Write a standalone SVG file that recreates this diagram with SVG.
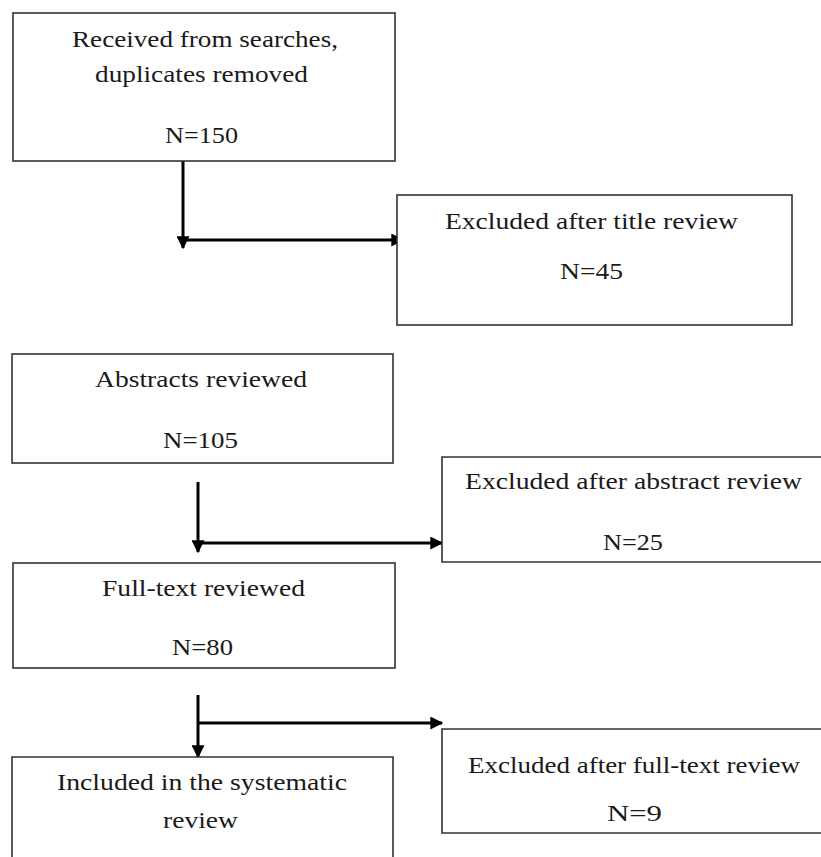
<svg xmlns="http://www.w3.org/2000/svg" width="821" height="857" viewBox="0 0 821 857">
<defs>
<style>
.box{fill:#fff;stroke:#333;stroke-width:1.6}
.t{font-family:"Liberation Serif","Times New Roman",serif;font-size:23px;fill:#1a1a1a}
.c{fill:none;stroke:#000;stroke-width:3}
</style>
<marker id="ah" viewBox="0 0 10 10" refX="9" refY="5" markerWidth="14" markerHeight="13" markerUnits="userSpaceOnUse" orient="auto">
<path d="M0,0 L10,5 L0,10 Z" fill="#000"/>
</marker>
</defs>
<rect width="821" height="857" fill="#fff"/>
<g id="connectors">
<path class="c" d="M183,161 V248" marker-end="url(#ah)"/>
<path class="c" d="M183,240 H403" marker-end="url(#ah)"/>
<path class="c" d="M198,482 V552" marker-end="url(#ah)"/>
<path class="c" d="M198,543 H442" marker-end="url(#ah)"/>
<path class="c" d="M198,695 V757" marker-end="url(#ah)"/>
<path class="c" d="M198,723 H442" marker-end="url(#ah)"/>
</g>
<g id="n1">
<rect class="box" x="13" y="13" width="382" height="148"/>
<text class="t" x="72" y="47" textLength="266" lengthAdjust="spacingAndGlyphs">Received from searches,</text>
<text class="t" x="95" y="82" textLength="213" lengthAdjust="spacingAndGlyphs">duplicates removed</text>
<text class="t" x="165" y="143" textLength="73" lengthAdjust="spacingAndGlyphs">N=150</text>
</g>
<g id="n2">
<rect class="box" x="397" y="195" width="395" height="130"/>
<text class="t" x="445" y="229" textLength="293" lengthAdjust="spacingAndGlyphs">Excluded after title review</text>
<text class="t" x="560" y="279" textLength="63" lengthAdjust="spacingAndGlyphs">N=45</text>
</g>
<g id="n3">
<rect class="box" x="12" y="354" width="381" height="109"/>
<text class="t" x="95" y="387" textLength="212" lengthAdjust="spacingAndGlyphs">Abstracts reviewed</text>
<text class="t" x="163" y="448" textLength="75" lengthAdjust="spacingAndGlyphs">N=105</text>
</g>
<g id="n4">
<path class="box" d="M823,457 H442 V562 H823"/>
<text class="t" x="465" y="489" textLength="337" lengthAdjust="spacingAndGlyphs">Excluded after abstract review</text>
<text class="t" x="603" y="550" textLength="60" lengthAdjust="spacingAndGlyphs">N=25</text>
</g>
<g id="n5">
<rect class="box" x="13" y="563" width="382" height="105"/>
<text class="t" x="102" y="596" textLength="203" lengthAdjust="spacingAndGlyphs">Full-text reviewed</text>
<text class="t" x="172" y="655" textLength="61" lengthAdjust="spacingAndGlyphs">N=80</text>
</g>
<g id="n6">
<path class="box" d="M12,860 V757 H393 V860"/>
<text class="t" x="57" y="790" textLength="290" lengthAdjust="spacingAndGlyphs">Included in the systematic</text>
<text class="t" x="163" y="828" textLength="75" lengthAdjust="spacingAndGlyphs">review</text>
</g>
<g id="n7">
<path class="box" d="M823,729 H442 V833 H823"/>
<text class="t" x="468" y="773" textLength="332" lengthAdjust="spacingAndGlyphs">Excluded after full-text review</text>
<text class="t" x="607" y="821" textLength="55" lengthAdjust="spacingAndGlyphs">N=9</text>
</g>
</svg>
